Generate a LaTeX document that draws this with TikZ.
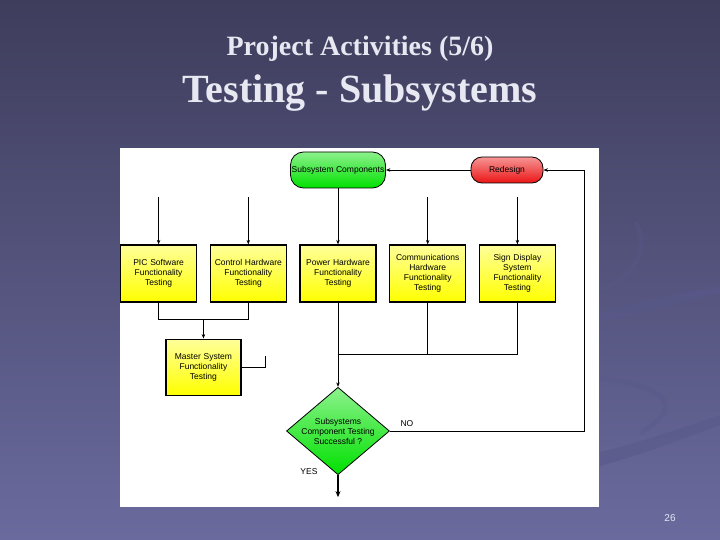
\documentclass[tikz,border=0pt]{standalone}
\usepackage{fontspec}
\setmainfont{Liberation Serif}
\newfontfamily\chartfont{Liberation Sans}
\usetikzlibrary{shapes.geometric, arrows.meta, positioning}
\definecolor{slidetop}{RGB}{62,61,92}
\definecolor{slidebot}{RGB}{106,106,158}
\definecolor{titlecol}{RGB}{232,232,242}
\definecolor{swoosh}{RGB}{88,88,138}
\definecolor{boxyel}{RGB}{255,255,0}
\definecolor{pgreen}{RGB}{0,225,0}
\definecolor{pred}{RGB}{235,20,20}

\begin{document}
\begin{tikzpicture}[x=1pt, y=-1pt, node distance=12.5pt,
  task/.style={
    rectangle, draw=black, line width=1.2pt,
    top color=yellow!40!white, bottom color=boxyel,
    minimum width=76pt, minimum height=57pt, text width=73pt,
    align=center, inner sep=1pt,
    font=\chartfont\fontsize{8.5}{10}\selectfont
  },
  pill/.style={
    rectangle, rounded corners=13pt, draw=black, line width=0.8pt,
    minimum height=36pt, minimum width=95pt, inner sep=0pt,
    font=\chartfont\fontsize{8.5}{10}\selectfont
  },
  decide/.style={
    diamond, draw=black, line width=0.8pt,
    top color=pgreen!45!white, bottom color=pgreen,
    minimum width=103pt, minimum height=76pt, inner sep=-3pt,
    align=center, font=\chartfont\fontsize{8.5}{10}\selectfont
  },
  lbl/.style={font=\chartfont\fontsize{8.5}{10}\selectfont},
  wire/.style={line width=0.7pt},
  arr/.style={-{Stealth[length=4.5pt,width=3.5pt]}, line width=0.7pt}
]
  % slide background
  \fill[top color=slidetop, bottom color=slidebot] (0,0) rectangle (720,540);
  \fill[swoosh, opacity=0.6] (600,312) .. controls (650,300) and (690,292) .. (720,285)
    -- (720,293) .. controls (690,300) and (650,310) .. (600,322) -- cycle;
  \fill[swoosh, opacity=0.6] (600,452) .. controls (650,440) and (690,425) .. (720,415)
    -- (720,425) .. controls (690,436) and (650,452) .. (600,466) -- cycle;
  \draw[swoosh, opacity=0.4, line width=4pt] (636,222) .. controls (648,245) and (640,275) .. (600,290);
  \draw[swoosh, opacity=0.4, line width=5pt] (600,378) .. controls (660,385) and (690,405) .. (640,433);

  \node[font=\bfseries\fontsize{28}{32}\selectfont, titlecol] (sub) at (360,49) {Project Activities (5/6)};
  \node[font=\bfseries\fontsize{40}{44}\selectfont, titlecol] (head) at (360,93) {Testing - Subsystems};
  \node[font=\chartfont\fontsize{10}{11}\selectfont, titlecol] (pgno) at (670,518) {26};

  \fill[white] (120,148) rectangle (599,507);

  % flow chart
  \node[pill, top color=pgreen!45!white, bottom color=pgreen] (comp) at (338,170) {Subsystem Components};
  \node[pill, top color=pred!45!white, bottom color=pred, minimum width=72pt,
        minimum height=26pt, rounded corners=11pt] (redo) at (507,170) {Redesign};

  \node[task] (pow) at (338,273.5) {Power Hardware\\Functionality\\Testing};
  \node[task, left=of pow] (ctrl) {Control Hardware\\Functionality\\Testing};
  \node[task, left=of ctrl] (pic) {PIC Software\\Functionality\\Testing};
  \node[task, right=of pow] (comm) {Communications\\Hardware\\Functionality\\Testing};
  \node[task, right=of comm] (sign) {Sign Display\\System\\Functionality\\Testing};

  \path (pic.south) -- (ctrl.south) coordinate[pos=0.5] (mid);
  \node[task, below=36pt of mid, minimum width=75pt, minimum height=56pt] (master) {Master System\\Functionality\\Testing};

  \node[decide] (check) at (338,431) {Subsystems\\Component Testing\\Successful ?};
  \node[lbl, anchor=west] (no) at (397,424) {NO};
  \node[lbl] (yes) at (309,472) {YES};

  \draw[arr] (redo) -- (comp);
  \draw[arr] (comp) -- (pow);
  \foreach \b in {pic,ctrl,comm,sign} {
    \coordinate (\b-in) at ([yshift=47pt]\b.north);
    \draw[arr] (\b-in) -- (\b.north);
  }

  \draw[wire] (pic.south) -- ++(0,17) -| (ctrl.south);
  \draw[arr] ([yshift=-17pt]mid) -- (master);
  \draw[wire] (master.east) -- ++(24,0) -- ++(0,-11);

  \coordinate (bus) at ([yshift=-52pt]pow.south);
  \draw[wire] (sign.south) |- (bus);
  \draw[wire] (comm.south) -- (comm.south |- bus);
  \draw[arr] (pow) -- (check);

  \coordinate (loop) at ([xshift=41pt]redo.east);
  \draw[arr] (check.east) -| (loop) -- (redo.east);

  \coordinate (done) at ([yshift=-22pt]check.south);
  \draw[-{Stealth[length=6pt,width=5pt]}, line width=1.6pt] (check.south) -- (done);
\end{tikzpicture}
\end{document}
